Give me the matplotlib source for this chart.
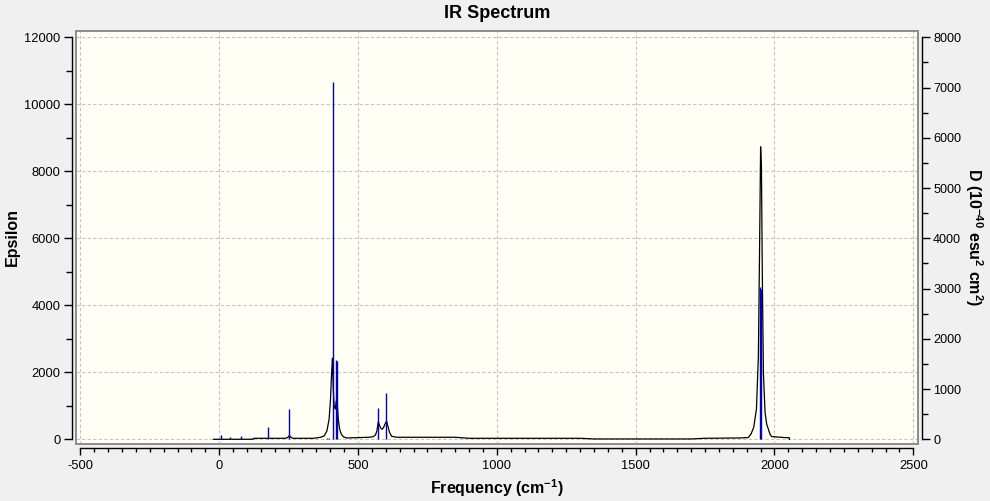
import numpy as np
import matplotlib
matplotlib.use("Agg")
import matplotlib.pyplot as plt
from matplotlib.patches import Rectangle
from matplotlib.ticker import MultipleLocator

plt.rcParams['font.family'] = ['Liberation Sans', 'DejaVu Sans']
plt.rcParams['axes.unicode_minus'] = False
plt.rcParams['mathtext.fontset'] = 'custom'
plt.rcParams['mathtext.rm'] = 'Liberation Sans:bold'
plt.rcParams['mathtext.bf'] = 'Liberation Sans:bold'
plt.rcParams['mathtext.default'] = 'bf'

# Broadened spectrum (Epsilon, left axis)
curve_freq = [-20, 120, 125, 240, 248, 253, 258, 265, 340, 365, 378, 388, 396,
              401, 405, 408, 411, 414, 418, 422, 425, 429, 434, 440, 448, 460,
              540, 555, 563, 568, 573, 578, 583, 587, 592, 597, 603, 608, 614,
              621, 640, 850, 900, 1300, 1350, 1700, 1750, 1875, 1905, 1915,
              1925, 1935, 1942, 1946, 1950, 1953, 1956, 1960, 1966, 1972, 1984,
              1990, 2040, 2053, 2054]
curve_eps = [0, 0, 30, 30, 60, 110, 60, 30, 30, 60, 100, 250, 600,
             1200, 2000, 2420, 1500, 1000, 900, 1150, 1100, 600, 300, 150, 70, 40,
             60, 80, 130, 250, 525, 400, 320, 300, 350, 450, 546, 380, 200,
             90, 60, 60, 30, 30, 10, 10, 30, 40, 50, 150,
             350, 900, 2500, 5500, 8730, 8100, 5000, 2000, 800, 450, 150,
             80, 50, 50, 0]

# Stick spectrum (D, right axis)
stick_freq = [5, 39, 80, 122, 175, 193, 253, 388, 395, 409, 421, 425, 573, 602,
              1949, 1952, 1978, 2032]
stick_d = [86, 40, 66, 20, 253, 15, 597, 20, 30, 7105, 1584, 1558, 617, 927,
           3037, 3000, 15, 15]

fig = plt.figure(figsize=(9.9, 5.01), dpi=100, facecolor='#f0f0f0')
ax = fig.add_axes([0.0768, 0.1132, 0.8508, 0.8244])
ax.set_facecolor('#fffff5')
ax.set_xlim(-515.5, 2518)
ax.set_ylim(-149, 12179)

ax.grid(True, which='major', linestyle=(0, (3, 2)), linewidth=0.8, color='#c4c4c4')
ax.set_axisbelow(True)

ax.plot(curve_freq, curve_eps, color='black', linewidth=0.9, zorder=3)

ax.xaxis.set_major_locator(MultipleLocator(500))
ax.xaxis.set_minor_locator(MultipleLocator(50))
ax.yaxis.set_major_locator(MultipleLocator(2000))
ax.yaxis.set_minor_locator(MultipleLocator(1000))

for s in ['top', 'right']:
    ax.spines[s].set_visible(False)
ax.spines['left'].set_position(('outward', 2.7))
ax.spines['left'].set_bounds(0, 12000)
ax.spines['bottom'].set_position(('outward', 2.9))
ax.spines['bottom'].set_bounds(-500, 2500)
for s in ['left', 'bottom']:
    ax.spines[s].set_linewidth(1.0)

ax.tick_params(axis='y', which='major', length=5.8, width=1.0, pad=2.8, labelsize=9.3)
ax.tick_params(axis='y', which='minor', length=4.0, width=1.0)
ax.tick_params(axis='x', which='major', length=4.8, width=1.0, pad=3.5, labelsize=9.3)
ax.tick_params(axis='x', which='minor', length=3.1, width=1.0)

# plot frame
ax.add_patch(Rectangle((0, 0), 1, 1, transform=ax.transAxes, fill=False,
                       edgecolor='#8c8c8c', linewidth=1.4, clip_on=False, zorder=5))

ax2 = ax.twinx()
ax2.set_ylim(-149 / 1.5, 12179 / 1.5)
ax2.vlines(stick_freq, 0, stick_d, color='#0000b4', linewidth=1.0, zorder=4)
for s in ['top', 'left', 'bottom']:
    ax2.spines[s].set_visible(False)
ax2.spines['right'].set_position(('outward', 2.5))
ax2.spines['right'].set_bounds(0, 8000)
ax2.spines['right'].set_linewidth(1.0)
ax2.yaxis.set_major_locator(MultipleLocator(1000))
ax2.yaxis.set_minor_locator(MultipleLocator(500))
ax2.tick_params(axis='y', which='major', length=5.8, width=1.0, pad=2.4, labelsize=9.1)
ax2.tick_params(axis='y', which='minor', length=4.3, width=1.0)

fig.text(497 / 990, 1 - 14 / 501, 'IR Spectrum', ha='center', va='center',
         fontsize=13, fontweight='bold')
fig.text(497 / 990, 1 - 488 / 501, r'Frequency (cm$^{-1}$)', ha='center', va='center',
         fontsize=11.5, fontweight='bold')
fig.text(12 / 990, 1 - 237 / 501, 'Epsilon', ha='center', va='center',
         rotation=90, fontsize=11.5, fontweight='bold')
fig.text(974 / 990, 1 - 237 / 501, r'D (10$^{-40}$ esu$^{2}$ cm$^{2}$)', ha='center',
         va='center', rotation=270, fontsize=11.5, fontweight='bold')

fig.savefig('out.png', dpi=100, facecolor=fig.get_facecolor())
